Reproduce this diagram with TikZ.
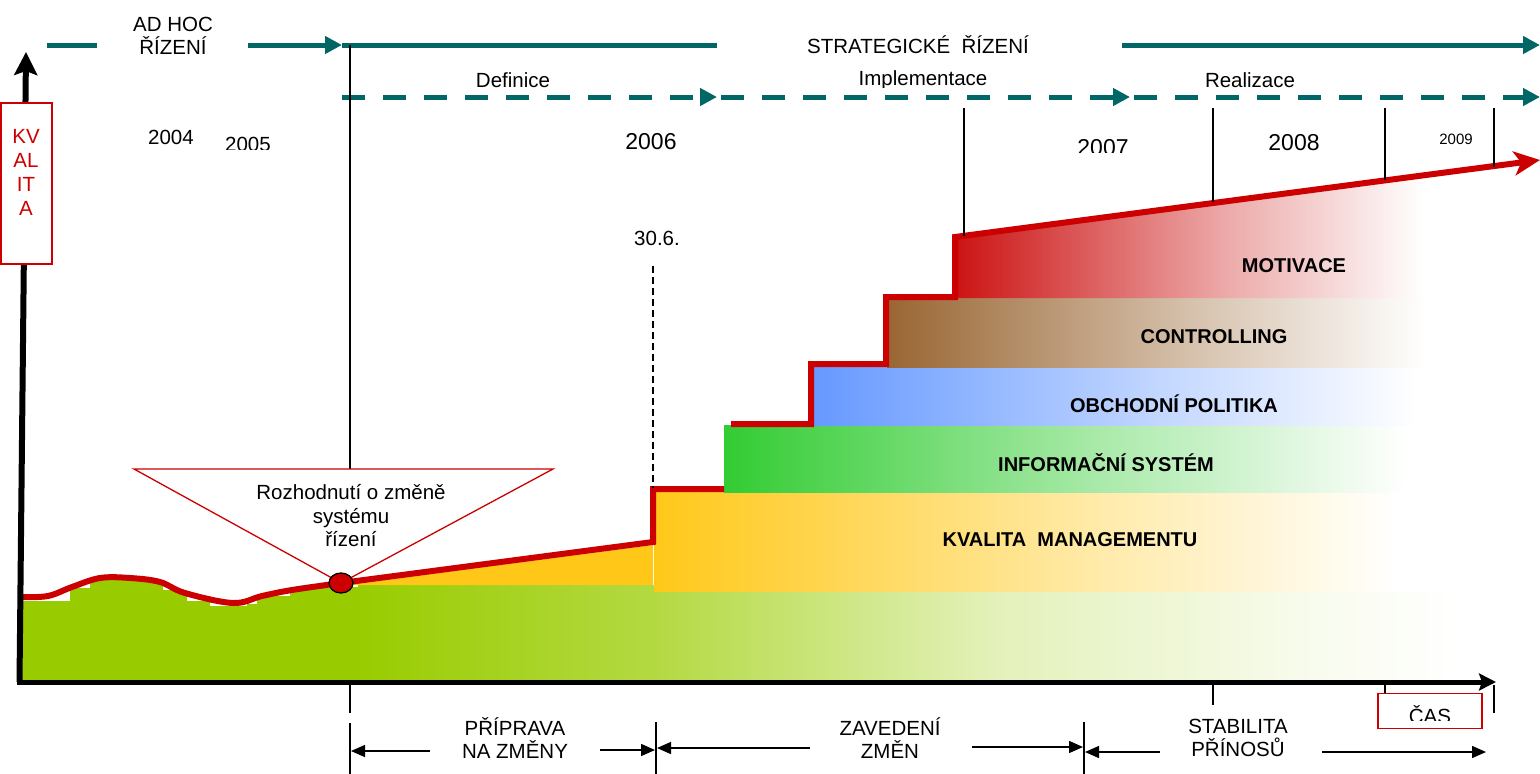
\documentclass[tikz,border=0pt]{standalone}
\usepackage{fontspec}
\setmainfont{Liberation Sans}
\usetikzlibrary{arrows.meta}
\definecolor{tealc}{RGB}{0,102,102}
\definecolor{redc}{RGB}{204,0,0}
\definecolor{grn}{RGB}{153,204,0}
\definecolor{org}{RGB}{255,200,25}
\definecolor{isg}{RGB}{51,204,51}
\definecolor{blu}{RGB}{102,153,255}
\definecolor{brn}{RGB}{153,102,51}
\definecolor{mot}{RGB}{204,20,20}
\colorlet{orgM}{org!40!white}
\colorlet{isgM}{isg!40!white}
\colorlet{bluM}{blu!40!white}
\colorlet{brnM}{brn!40!white}
\colorlet{motM}{mot!36!white}
\colorlet{grnA}{grn!74!white}
\colorlet{grnB}{grn!27!white}
\colorlet{grnC}{grn!8!white}
\pgfdeclarehorizontalshading{shorg}{100bp}{color(0bp)=(org); color(25bp)=(org); color(50bp)=(orgM); color(69bp)=(white); color(100bp)=(white)}
\pgfdeclarehorizontalshading{shisg}{100bp}{color(0bp)=(isg); color(25bp)=(isg); color(50bp)=(isgM); color(69bp)=(white); color(100bp)=(white)}
\pgfdeclarehorizontalshading{shblu}{100bp}{color(0bp)=(blu); color(25bp)=(blu); color(50bp)=(bluM); color(69bp)=(white); color(100bp)=(white)}
\pgfdeclarehorizontalshading{shbrn}{100bp}{color(0bp)=(brn); color(25bp)=(brn); color(50bp)=(brnM); color(69bp)=(white); color(100bp)=(white)}
\pgfdeclarehorizontalshading{shmot}{100bp}{color(0bp)=(mot); color(25bp)=(mot); color(50bp)=(motM); color(68bp)=(white); color(100bp)=(white)}
\pgfdeclarehorizontalshading{shgrn}{100bp}{color(0bp)=(grn); color(25bp)=(grn); color(38bp)=(grnA); color(53bp)=(grnB); color(66bp)=(grnC); color(73bp)=(white); color(100bp)=(white)}
\begin{document}
\begin{tikzpicture}[x=1pt,y=-1pt,
  txt/.style={font=\fontsize{20.5}{23.5}\selectfont, align=center, inner sep=0pt},
  yrbig/.style={font=\fontsize{23}{26}\selectfont, inner sep=0pt},
  lab/.style={font=\bfseries\fontsize{20}{23}\selectfont, inner sep=0pt},
  tl/.style={line width=5pt, draw=tealc},
  tarr/.style={-{Triangle[length=17pt,width=17pt]}},
  dsh/.style={dash pattern=on 23pt off 18pt},
  redln/.style={line width=6pt, draw=redc, line join=miter},
  thinln/.style={line width=1.3pt, draw=black},
  dimarr/.style={line width=1.5pt, -{Triangle[length=14pt,width=12pt]}},
  redbox/.style={draw=redc, line width=1.5pt, fill=white, inner sep=0pt}
]
\useasboundingbox (0,0) rectangle (1540,774);

% ---------- green ground ----------
\fill[grn] (22,680) -- (22,601) -- (70,601) -- (70,588) -- (90,588) -- (90,580)
  -- (163,580) -- (163,590) -- (180,590) -- (180,593) -- (187,593) -- (187,601)
  -- (210,601) -- (210,606) -- (247,606) -- (247,604) -- (257,604) -- (257,598)
  -- (266,598) -- (266,596) -- (290,596) -- (290,590) -- (308,590) -- (308,588)
  -- (340,588) -- (340,587) -- (360,587) -- (360,680) -- cycle;
\shade[shading=shgrn] (358,585) rectangle (1500,680);

% ---------- orange wedge ----------
\fill[org] (345,585) -- (653,545) -- (653,585) -- cycle;

% ---------- stacked boxes ----------
\shade[shading=shorg] (654,492) rectangle (1500,591);
\shade[shading=shisg] (724,425) rectangle (1500,492);
\shade[shading=shblu] (814,367) rectangle (1500,425);
\shade[shading=shbrn] (887,297) rectangle (1500,367);
\shade[shading=shmot] (956,298) -- (956,238) -- (1500,167) -- (1500,298) -- cycle;

\node[lab] (mot) at (1294,266) {MOTIVACE};
\node[lab] (ctr) at (1214,337) {CONTROLLING};
\node[lab] (obp) at (1174,404) {OBCHODNÍ POLITIKA};
\node[lab] (ifs) at (1106,463) {INFORMAČNÍ SYSTÉM};
\node[lab] (kvm) at (1070,540) {KVALITA\ \ MANAGEMENTU};

% ---------- red quality line ----------
\coordinate (dec) at (341,583);
\coordinate (s1) at (653,542);
\coordinate (s2) at (653,489);
\coordinate (s3) at (724,489);
\draw[redln] plot[smooth, tension=0.6] coordinates {(22,597) (48,596) (72,587) (100,578) (130,578) (160,582) (185,593) (233,603) (262,596) (292,590) (341,583)}
  -- (s1) -- (s2) -- (s3);
\coordinate (q1) at (731,424);
\coordinate (q2) at (811,424);
\coordinate (q3) at (811,364);
\coordinate (q4) at (886,364);
\coordinate (q5) at (886,297);
\coordinate (q6) at (955,297);
\coordinate (q7) at (955,237);
\coordinate (qend) at (1540,160);
\draw[redln, -{Stealth[length=26pt,width=24pt,inset=7pt]}] (q1) -- (q2) -- (q3) -- (q4) -- (q5) -- (q6) -- (q7) -- (qend);

% ---------- axes ----------
\coordinate (o) at (19.5,682);
\coordinate (ytip) at (26,52);
\coordinate (xtip) at (1496,682);
\draw[line width=6pt, -{Stealth[length=23pt,width=23pt,inset=4pt]}] (o) -- (ytip);
\draw[line width=5pt, -{Stealth[length=17pt,width=17pt,inset=3pt]}] (17,682) -- (xtip);

% ---------- teal timelines ----------
\coordinate (t0) at (47,45);
\coordinate (t1) at (97,45);
\coordinate (t2) at (248,45);
\coordinate (t3) at (342,45);
\coordinate (t4) at (717,45);
\coordinate (t5) at (1122,45);
\coordinate (t6) at (1540,45);
\draw[tl] (t0) -- (t1);
\draw[tl, tarr] (t2) -- (t3);
\draw[tl] (t3) -- (t4);
\draw[tl, tarr] (t5) -- (t6);
\coordinate (d0) at (342,97);
\coordinate (d1) at (717,97);
\coordinate (d2) at (721,97);
\coordinate (d3) at (1130,97);
\coordinate (d4) at (1134,97);
\coordinate (d5) at (1540,97);
\draw[tl, dsh, tarr] (d0) -- (d1);
\draw[tl, dsh, tarr] (d2) -- (d3);
\draw[tl, dsh, tarr] (d4) -- (d5);

\node[txt] (adhoc) at (173,36) {AD HOC\\ŘÍZENÍ};
\node[txt] (strat) at (918,45) {STRATEGICKÉ\ \ ŘÍZENÍ};
\begin{scope}
  \clip (300,60) rectangle (1400,87.5);
  \node[txt, anchor=base] (defi) at (513,87) {Definice};
  \node[txt, anchor=base] (impl) at (923,85) {Implementace};
  \node[txt, anchor=base] (real) at (1250,87) {Realizace};
\end{scope}

% ---------- years ----------
\node[txt] (y2004) at (171,137) {2004};
\begin{scope}
  \clip (200,120) rectangle (300,149);
  \node[txt] (y2005) at (248,144) {2005};
\end{scope}
\node[yrbig] (y2006) at (651,142) {2006};
\begin{scope}
  \clip (1050,120) rectangle (1160,152);
  \node[yrbig] (y2007) at (1103,148) {2007};
\end{scope}
\node[yrbig] (y2008) at (1294,143) {2008};
\node[font=\fontsize{15}{18}\selectfont, inner sep=0pt] (y2009) at (1456,139) {2009};
\node[txt] (d306) at (657,238) {30.6.};

% ---------- vertical markers ----------
\coordinate (v350a) at (350,45);
\coordinate (v350b) at (350,469);
\draw[thinln] (v350a) -- (v350b);
\draw[thinln] (964,108) -- (964,236);
\draw[thinln] (1213,108) -- (1213,202);
\draw[thinln] (1385,108) -- (1385,180);
\draw[thinln] (1494,108) -- (1494,167);
\draw[thinln, dash pattern=on 7pt off 4pt] (653,266) -- (653,488);

% ---------- KVALITA box ----------
\node[redbox, minimum width=51pt, minimum height=161pt] (kvbox) at (26.5,183.5) {};
\node[txt, text=redc, font=\fontsize{20.5}{24}\selectfont] (kvtxt) at (26,172) {KV\\AL\\IT\\A};

% ---------- decision callout ----------
\coordinate (c1) at (134,469);
\coordinate (c2) at (553,469);
\draw[redc, line width=1.3pt, fill=white] (c1) -- (c2) -- (dec) -- cycle;
\node[txt] (rozh) at (351,516) {Rozhodnutí o změně\\systému\\řízení};
\draw[fill=redc, line width=1.3pt] (dec) ellipse (12 and 10);

% ---------- bottom phases ----------
\draw[thinln] (350,685) -- (350,713);
\draw[thinln] (350,723) -- (350,774);
\draw[thinln] (656,722) -- (656,774);
\draw[thinln] (1084,722) -- (1084,774);
\draw[thinln] (1213,685) -- (1213,705);
\draw[thinln] (1385,685) -- (1385,694);
\draw[thinln] (1494,685) -- (1494,713);

\node[txt] (prip) at (515,738) {PŘÍPRAVA\\NA ZMĚNY};
\node[txt] (zav) at (890,738) {ZAVEDENÍ\\ZMĚN};
\node[txt] (stab) at (1238,738) {STABILITA\\PŘÍNOSŮ};
\draw[dimarr] (430,751) -- (351,751);
\draw[dimarr] (600,750) -- (655,750);
\draw[dimarr] (810,748) -- (657,748);
\draw[dimarr] (972,747) -- (1083,747);
\draw[dimarr] (1160,752) -- (1085,752);
\draw[dimarr] (1322,752) -- (1486,752);

\node[redbox, minimum width=104pt, minimum height=35pt] (casbox) at (1430,711) {};
\begin{scope}
  \clip (1380,695) rectangle (1480,720.5);
  \node[txt] (cas) at (1430,715) {ČAS};
\end{scope}
\end{tikzpicture}
\end{document}
